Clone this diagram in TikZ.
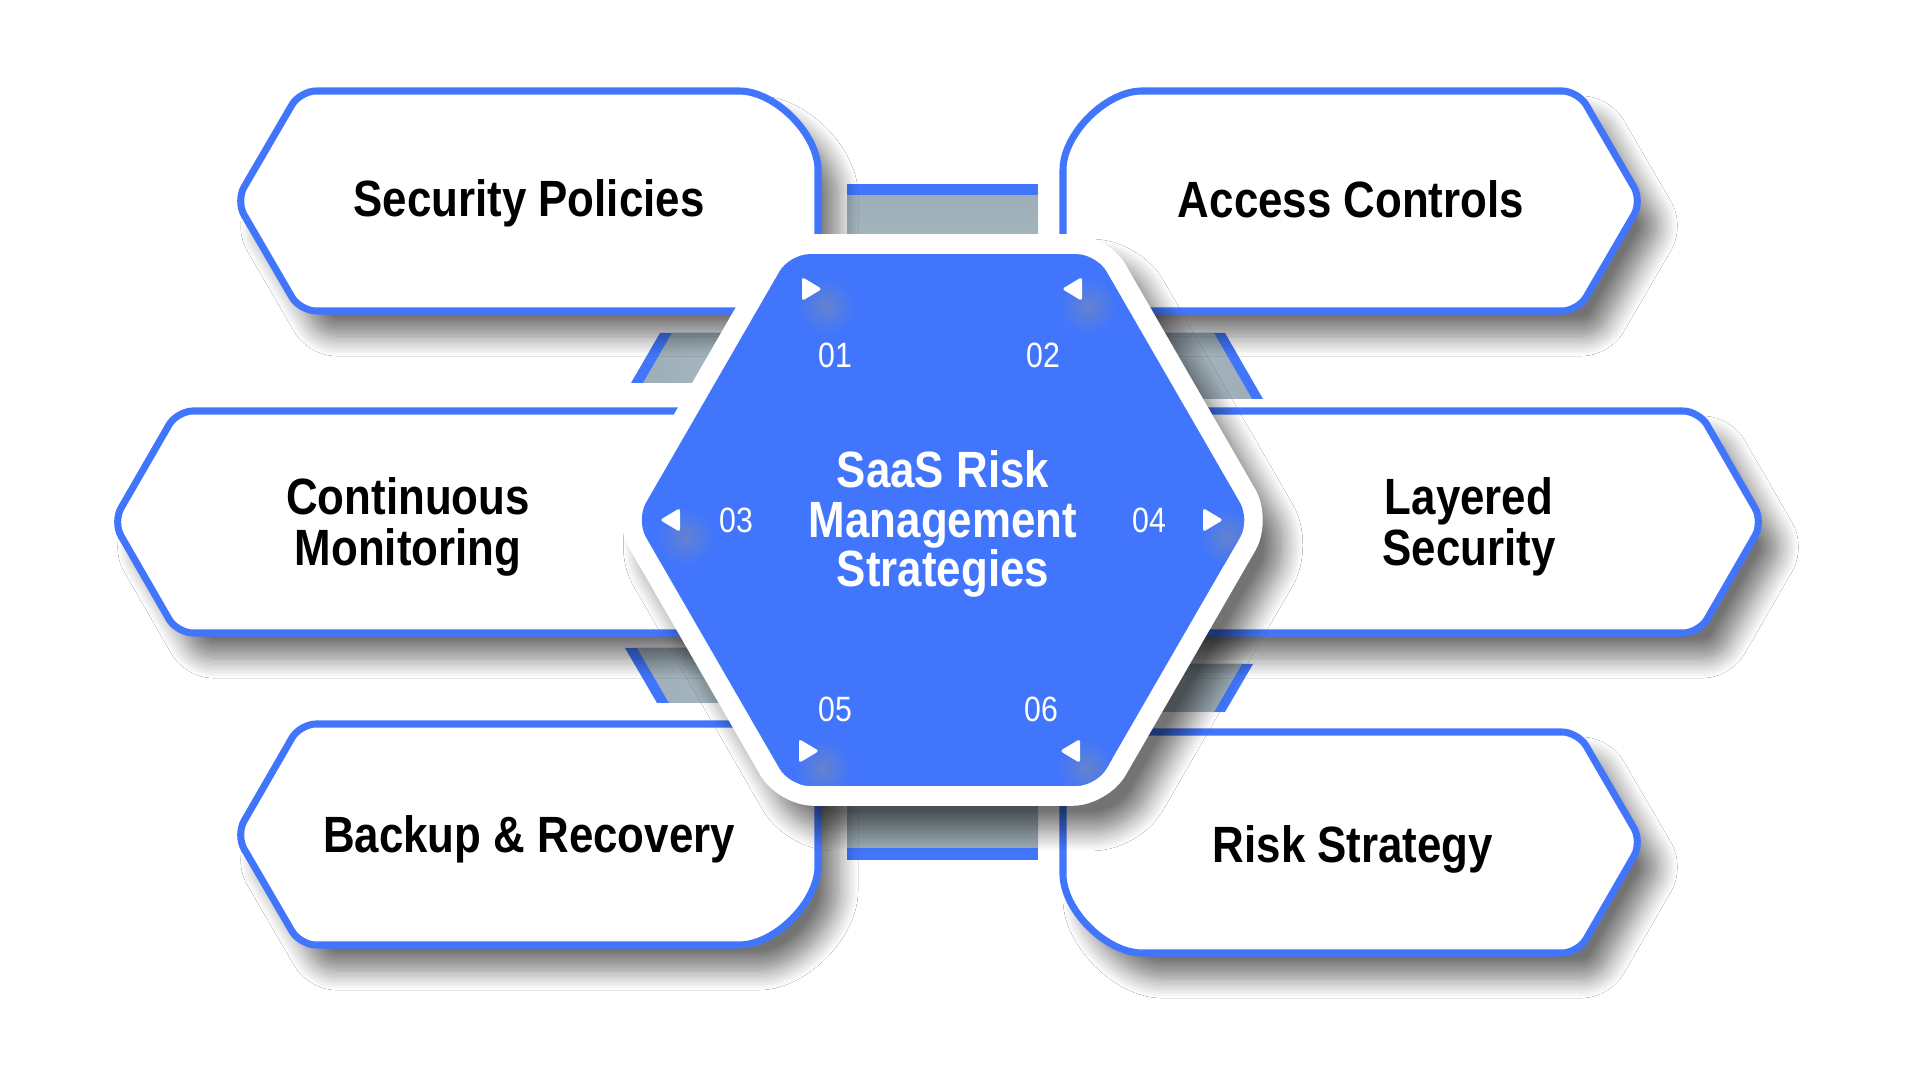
\documentclass[tikz,border=0pt]{standalone}
\usepackage{fontspec}
\setmainfont{Liberation Sans}
\newfontfamily\condfont{Liberation Sans}[FakeStretch=0.86]
\usetikzlibrary{shadows.blur}

\definecolor{hexblue}{RGB}{65,118,252}
\definecolor{bardark}{RGB}{158,174,184}
\definecolor{barlight}{RGB}{174,190,198}
\definecolor{glowblue}{RGB}{100,130,205}

\tikzset{
  softshadow/.style={blur shadow={shadow xshift=2mm, shadow yshift=-2.5mm,
    shadow blur radius=2mm, shadow blur steps=16, shadow opacity=55}},
  box/.style={draw=hexblue, line width=2pt, fill=white, rounded corners=1.6mm, softshadow},
  boxlabel/.style={font=\condfont\bfseries\fontsize{14.5}{14.5}\selectfont, align=center, text=black},
  numlabel/.style={font=\condfont\fontsize{10}{10}\selectfont, text=white},
  playtip/.style={fill=white, rounded corners=0.8pt},
}

\begin{document}
\begin{tikzpicture}[x=0.01cm, y=-0.01cm]
\useasboundingbox[fill=white] (0,0) rectangle (1920,1080);
\coordinate (hub) at (943,520);

% bars behind the hub
\fill[hexblue] (847,184) rectangle (1038,300);
\shade[top color=bardark, bottom color=barlight] (847,196) rectangle (1038,300);
\fill[hexblue] (847,760) rectangle (1038,860);
\shade[top color=barlight, bottom color=bardark] (847,760) rectangle (1038,848);

\fill[hexblue] (660,333) -- (800,333) -- (771,383) -- (631,383) -- cycle;
\shade[left color=bardark, right color=barlight] (672,333) -- (800,333) -- (771,383) -- (643,383) -- cycle;
\fill[hexblue] (1225,333) -- (1263,399) -- (1120,399) -- (1082,333) -- cycle;
\shade[left color=barlight, right color=bardark] (1214,333) -- (1252,399) -- (1120,399) -- (1082,333) -- cycle;
\fill[hexblue] (625,648) -- (780,648) -- (812,703) -- (657,703) -- cycle;
\shade[left color=bardark, right color=barlight] (637,648) -- (780,648) -- (812,703) -- (669,703) -- cycle;
\fill[hexblue] (1253,664) -- (1225,712) -- (1090,712) -- (1118,664) -- cycle;
\shade[left color=barlight, right color=bardark] (1242,664) -- (1214,712) -- (1090,712) -- (1118,664) -- cycle;

% the six boxes
\draw[box] (818,311) -- (818,186) .. controls (818,134) and (775,91) .. (723,91)
  -- (300,91) -- (236,201) -- (300,311) -- cycle;
\draw[box] (1063,311) -- (1063,186) .. controls (1063,134) and (1106,91) .. (1158,91)
  -- (1578,91) -- (1642,201) -- (1578,311) -- cycle;
\draw[box] (740,633) -- (740,411) -- (177,411) -- (113,522) -- (177,633) -- cycle;
\draw[box] (1150,411) -- (1699,411) -- (1763,522) -- (1699,633) -- (1150,633) -- cycle;
\draw[box] (818,724) -- (818,850) .. controls (818,902) and (775,945) .. (723,945)
  -- (300,945) -- (236,835) -- (300,724) -- cycle;
\draw[box] (1063,732) -- (1063,858) .. controls (1063,910) and (1106,953) .. (1158,953)
  -- (1578,953) -- (1642,842) -- (1578,732) -- cycle;

\node[boxlabel] (sp) at (529,203) {Security Policies};
\node[boxlabel] (ac) at (1351,199) {Access Controls};
\node[boxlabel] (cm) at (408,527) {Continuous\\Monitoring};
\node[boxlabel] (ls) at (1469,527) {Layered\\Security};
\node[boxlabel] (br) at (529,839) {Backup \& Recovery};
\node[boxlabel] (rs) at (1353,849) {Risk Strategy};

% hub
\fill[white, shift={(hub)}, rounded corners=3.5mm, softshadow]
  (0:330) \foreach \a in {60,120,...,300} { -- (\a:330) } -- cycle;
\fill[hexblue, shift={(hub)}, rounded corners=2mm]
  (0:307) \foreach \a in {60,120,...,300} { -- (\a:307) } -- cycle;

\begin{scope}
  \clip[shift={(hub)}, rounded corners=2mm]
    (0:307) \foreach \a in {60,120,...,300} { -- (\a:307) } -- cycle;
  \foreach \p in {(826,306),(1088,306),(686,537),(1227,537),(823,768),(1086,768)}
    \shade[inner color=glowblue, outer color=hexblue] \p circle (0.28cm);
\end{scope}

\fill[playtip, shift={(811,289)}] (-9,-12) -- (11,0) -- (-9,12) -- cycle;
\fill[playtip, shift={(1073,289)}] (9,-12) -- (-11,0) -- (9,12) -- cycle;
\fill[playtip, shift={(671,520)}] (9,-12) -- (-11,0) -- (9,12) -- cycle;
\fill[playtip, shift={(1212,520)}] (-9,-12) -- (11,0) -- (-9,12) -- cycle;
\fill[playtip, shift={(808,751)}] (-9,-12) -- (11,0) -- (-9,12) -- cycle;
\fill[playtip, shift={(1071,751)}] (9,-12) -- (-11,0) -- (9,12) -- cycle;

\node[numlabel] (n01) at (835,355) {01};
\node[numlabel] (n02) at (1043,355) {02};
\node[numlabel] (n03) at (736,520) {03};
\node[numlabel] (n04) at (1149,520) {04};
\node[numlabel] (n05) at (835,709) {05};
\node[numlabel] (n06) at (1041,709) {06};

\node[font=\condfont\bfseries\fontsize{14.5}{14.2}\selectfont, text=white, align=center]
  (title) at (943,524) {SaaS Risk\\Management\\Strategies};
\end{tikzpicture}
\end{document}
